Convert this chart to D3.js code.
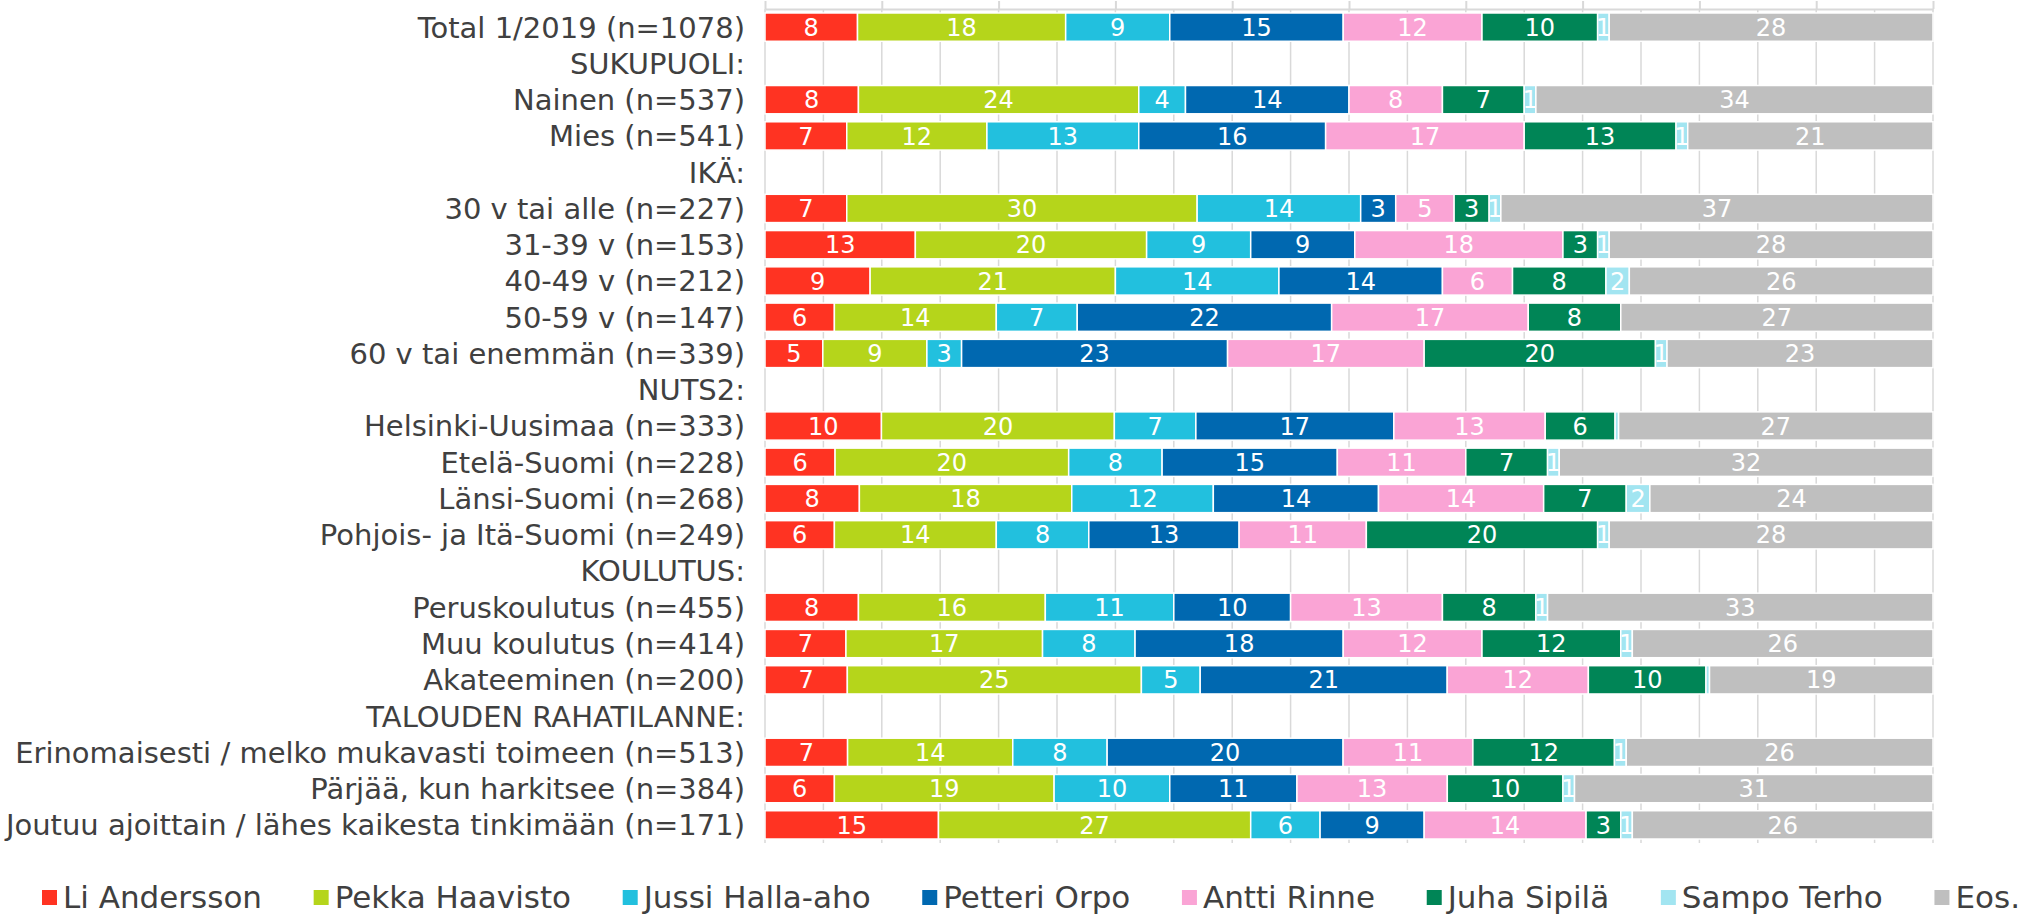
<!DOCTYPE html>
<html>
<head>
<meta charset="utf-8">
<script src="https://cdn.jsdelivr.net/npm/d3@7"></script>
<style>
    html, body { margin: 0; padding: 0; background: #fff; }
    svg { display: block; font-family: 'DejaVu Sans', Verdana, sans-serif; }
</style>
</head>
<body>
<svg id="chart"></svg>
<script>
(function () {
    'use strict';

    var categories = [
        'Total 1/2019 (n=1078)',
        'SUKUPUOLI:',
        'Nainen (n=537)',
        'Mies (n=541)',
        'IKÄ:',
        '30 v tai alle (n=227)',
        '31-39 v (n=153)',
        '40-49 v (n=212)',
        '50-59 v (n=147)',
        '60 v tai enemmän (n=339)',
        'NUTS2:',
        'Helsinki-Uusimaa (n=333)',
        'Etelä-Suomi (n=228)',
        'Länsi-Suomi (n=268)',
        'Pohjois- ja Itä-Suomi (n=249)',
        'KOULUTUS:',
        'Peruskoulutus (n=455)',
        'Muu koulutus (n=414)',
        'Akateeminen (n=200)',
        'TALOUDEN RAHATILANNE:',
        'Erinomaisesti / melko mukavasti toimeen (n=513)',
        'Pärjää, kun harkitsee (n=384)',
        'Joutuu ajoittain / lähes kaikesta tinkimään (n=171)'
    ];

    var candidates = ['Li Andersson', 'Pekka Haavisto', 'Jussi Halla-aho', 'Petteri Orpo',
        'Antti Rinne', 'Juha Sipilä', 'Sampo Terho', 'Eos.'];
    var colors = ['#ff3322', '#b5d51b', '#22c0de', '#0068b0', '#faa4d5', '#008556', '#a2e5f1', '#bfbfbf'];

    // null = header row (no bar)
    var liAndersson   = [8, null, 8, 7, null, 7, 13, 9, 6, 5, null, 10, 6, 8, 6, null, 8, 7, 7, null, 7, 6, 15];
    var pekkaHaavisto = [18, null, 24, 12, null, 30, 20, 21, 14, 9, null, 20, 20, 18, 14, null, 16, 17, 25, null, 14, 19, 27];
    var jussiHallaAho = [9, null, 4, 13, null, 14, 9, 14, 7, 3, null, 7, 8, 12, 8, null, 11, 8, 5, null, 8, 10, 6];
    var petteriOrpo   = [15, null, 14, 16, null, 3, 9, 14, 22, 23, null, 17, 15, 14, 13, null, 10, 18, 21, null, 20, 11, 9];
    var anttiRinne    = [12, null, 8, 17, null, 5, 18, 6, 17, 17, null, 13, 11, 14, 11, null, 13, 12, 12, null, 11, 13, 14];
    var juhaSipila    = [10, null, 7, 13, null, 3, 3, 8, 8, 20, null, 6, 7, 7, 20, null, 8, 12, 10, null, 12, 10, 3];
    var sampoTerho    = [1, null, 1, 1, null, 1, 1, 2, 0, 1, null, 0.3, 1, 2, 1, null, 1, 1, 0.3, null, 1, 1, 1];
    var eos           = [28, null, 34, 21, null, 37, 28, 26, 27, 23, null, 27, 32, 24, 28, null, 33, 26, 19, null, 26, 31, 26];

    var seriesValues = [liAndersson, pekkaHaavisto, jussiHallaAho, petteriOrpo,
        anttiRinne, juhaSipila, sampoTerho, eos];

    var width = 2023;
    var height = 914;
    var plotLeft = 765;
    var plotRight = 1933;
    var plotTop = 9;
    var plotBottom = 843;
    var textColor = '#404040';
    var gridColor = '#d9d9d9';

    var svg = d3.select('#chart')
        .attr('width', width)
        .attr('height', height);

    var rows = categories.map(function (c, i) {
        var row = { category: c, header: liAndersson[i] === null };
        candidates.forEach(function (name, k) {
            row[name] = seriesValues[k][i] || 0;
        });
        return row;
    });

    var x = d3.scaleLinear().domain([0, 1]).range([plotLeft, plotRight]);
    var y = d3.scaleBand().domain(categories).range([plotTop, plotBottom])
        .paddingInner(0.22).paddingOuter(0.11);

    var color = d3.scaleOrdinal().domain(candidates).range(colors);

    // grid
    svg.append('g')
        .selectAll('line')
        .data(d3.range(0, 1.0001, 0.05))
        .enter().append('line')
        .attr('x1', function (d) { return x(d); })
        .attr('x2', function (d) { return x(d); })
        .attr('y1', plotTop)
        .attr('y2', plotBottom)
        .attr('stroke', gridColor)
        .attr('stroke-width', 1.5);

    // top axis, no labels
    var axis = svg.append('g')
        .attr('transform', 'translate(0,' + plotTop + ')')
        .call(d3.axisTop(x).ticks(10).tickSize(8).tickSizeOuter(0).tickFormat(''));
    axis.selectAll('line, path').attr('stroke', gridColor).attr('stroke-width', 2);

    // category labels
    svg.append('g')
        .selectAll('text')
        .data(categories)
        .enter().append('text')
        .attr('x', plotLeft - 20)
        .attr('y', function (d) { return y(d) + y.bandwidth() / 2; })
        .attr('dy', '.36em')
        .attr('text-anchor', 'end')
        .attr('fill', textColor)
        .style('font-size', '29px')
        .text(function (d) { return d; });

    var stack = d3.stack().keys(candidates).offset(d3.stackOffsetExpand);
    var layers = stack(rows.filter(function (r) { return !r.header; }));

    var layer = svg.append('g')
        .selectAll('g')
        .data(layers)
        .enter().append('g')
        .attr('fill', function (d) { return color(d.key); });

    layer.selectAll('rect')
        .data(function (d) { return d; })
        .enter().append('rect')
        .attr('x', function (d) { return x(d[0]); })
        .attr('y', function (d) { return y(d.data.category); })
        .attr('width', function (d) { return Math.max(0, x(d[1]) - x(d[0])); })
        .attr('height', y.bandwidth())
        .attr('stroke', '#fff')
        .attr('stroke-width', 1.5);

    layer.selectAll('text')
        .data(function (d) {
            return d.map(function (p) { p.key = d.key; return p; })
                .filter(function (p) { return p.data[d.key] >= 0.5; });
        })
        .enter().append('text')
        .attr('x', function (d) { return (x(d[0]) + x(d[1])) / 2; })
        .attr('y', function (d) { return y(d.data.category) + y.bandwidth() / 2; })
        .attr('dy', '.36em')
        .attr('text-anchor', 'middle')
        .attr('fill', '#fff')
        .style('font-size', '24px')
        .text(function (d) { return d3.format('d')(d.data[d.key]); });

    // legend
    var legend = svg.append('g').attr('transform', 'translate(0,908)');
    var items = legend.selectAll('g')
        .data(candidates)
        .enter().append('g');

    items.append('rect')
        .attr('y', -18)
        .attr('width', 15)
        .attr('height', 15)
        .attr('fill', function (d) { return color(d); });

    items.append('text')
        .attr('x', 21)
        .attr('fill', textColor)
        .style('font-size', '31px')
        .text(function (d) { return d; });

    var legendLeft = 42;
    var legendRight = 2020;
    var itemWidths = [];
    items.each(function () {
        itemWidths.push(21 + d3.select(this).select('text').node().getComputedTextLength());
    });
    var gap = (legendRight - legendLeft - d3.sum(itemWidths)) / (candidates.length - 1);
    var pos = legendLeft;
    items.attr('transform', function (d, i) {
        var t = 'translate(' + pos + ',0)';
        pos += itemWidths[i] + gap;
        return t;
    });
})();
</script>
</body>
</html>
